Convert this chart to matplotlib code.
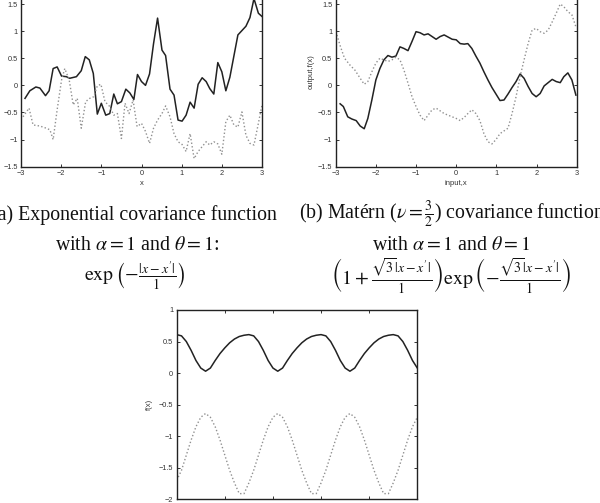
import matplotlib
matplotlib.use("Agg")
import matplotlib.pyplot as plt
import numpy as np

plt.rcParams['mathtext.fontset'] = 'stix'
plt.rcParams['axes.unicode_minus'] = True

# ---- panel (a): exponential covariance samples ----
xa_solid = [-2.90, -2.78, -2.63, -2.53, -2.39, -2.30, -2.20, -2.10, -1.99, -1.87, -1.79, -1.62, -1.50,
            -1.40, -1.30, -1.20, -1.10, -1.00, -0.89, -0.79, -0.69, -0.60, -0.50, -0.39, -0.29, -0.19,
            -0.10, 0.00, 0.10, 0.20, 0.30, 0.40, 0.51, 0.60, 0.71, 0.81, 0.91, 1.01, 1.11, 1.21, 1.31,
            1.41, 1.51, 1.61, 1.70, 1.80, 1.90, 2.00, 2.10, 2.20, 2.30, 2.40, 2.50, 2.60, 2.70, 2.80,
            2.91, 3.00]
ya_solid = [-0.24, -0.10, -0.03, -0.05, -0.19, -0.10, 0.31, 0.34, 0.17, 0.16, 0.13, 0.16, 0.27,
            0.53, 0.47, 0.22, -0.53, -0.33, -0.55, -0.52, -0.16, -0.34, -0.30, -0.07, -0.14, -0.26,
            0.20, 0.07, 0.00, 0.21, 0.77, 1.24, 0.65, 0.55, -0.07, -0.18, -0.64, -0.66, -0.55, -0.31, -0.42,
            0.02, 0.14, 0.07, -0.06, -0.16, 0.42, 0.25, -0.10, 0.15, 0.54, 0.93, 1.01, 1.09, 1.25, 1.60,
            1.33, 1.27]
xa_dot = [-2.95, -2.80, -2.70, -2.53, -2.37, -2.28, -2.20, -2.10, -1.99, -1.91, -1.80, -1.70, -1.60,
          -1.50, -1.39, -1.29, -1.19, -1.10, -1.01, -0.91, -0.79, -0.69, -0.60, -0.50, -0.41, -0.31,
          -0.21, -0.11, 0.00, 0.10, 0.20, 0.30, 0.40, 0.51, 0.60, 0.71, 0.81, 0.91, 1.01, 1.11, 1.21,
          1.31, 1.41, 1.51, 1.61, 1.70, 1.80, 1.90, 2.00, 2.10, 2.20, 2.30, 2.40, 2.50, 2.60, 2.70,
          2.80, 2.91, 3.00]
ya_dot = [-0.58, -0.42, -0.73, -0.75, -0.79, -0.82, -1.00, -0.45, 0.10, 0.31, 0.10, -0.36, -0.24,
          -0.79, -0.30, -0.24, -0.21, -0.01, 0.02, -0.30, -0.39, -0.55, -0.52, -0.98, -0.33, -0.52,
          -0.27, -0.76, -0.70, -0.85, -1.07, -0.79, -0.64, -0.52, -0.38, -0.58, -0.89, -1.04, -1.09,
          -1.22, -0.89, -1.35, -1.22, -1.13, -1.04, -1.10, -1.04, -1.08, -1.27, -0.67, -0.55, -0.73,
          -0.77, -0.49, -0.92, -1.07, -1.10, -0.70, -0.36]

# ---- panel (b): Matern 3/2 samples ----
xb_solid = [-2.89, -2.81, -2.70, -2.60, -2.49, -2.39, -2.29, -2.20, -2.10, -2.00, -1.90, -1.80, -1.70,
            -1.60, -1.50, -1.40, -1.30, -1.20, -1.10, -1.00, -0.90, -0.80, -0.70, -0.60, -0.50, -0.40,
            -0.30, -0.20, -0.10, 0.00, 0.10, 0.20, 0.29, 0.39, 0.49, 0.59, 0.69, 0.79, 0.89, 0.99, 1.09,
            1.19, 1.29, 1.39, 1.49, 1.59, 1.69, 1.79, 1.89, 1.99, 2.09, 2.19, 2.29, 2.39, 2.49, 2.59,
            2.68, 2.78, 2.88, 2.98]
yb_solid = [-0.34, -0.39, -0.58, -0.62, -0.65, -0.75, -0.80, -0.61, -0.27, 0.10, 0.31, 0.47, 0.55,
            0.52, 0.54, 0.71, 0.68, 0.64, 0.81, 0.99, 0.97, 0.93, 0.95, 0.90, 0.85, 0.90, 0.93, 0.89,
            0.85, 0.84, 0.77, 0.76, 0.77, 0.68, 0.54, 0.41, 0.25, 0.10, -0.04, -0.16, -0.28, -0.27,
            -0.16, -0.04, 0.07, 0.21, 0.13, -0.02, -0.15, -0.21, -0.15, -0.01, 0.05, 0.11, 0.07, 0.05,
            0.16, 0.23, 0.10, -0.18]
xb_dot = [-2.97, -2.88, -2.78, -2.64, -2.52, -2.39, -2.29, -2.20, -2.10, -2.00, -1.90, -1.80, -1.70,
          -1.60, -1.50, -1.40, -1.30, -1.20, -1.10, -1.00, -0.90, -0.80, -0.70, -0.60, -0.50, -0.40,
          -0.30, -0.20, -0.10, 0.00, 0.10, 0.20, 0.29, 0.39, 0.49, 0.59, 0.69, 0.79, 0.89, 0.99, 1.09,
          1.19, 1.29, 1.39, 1.49, 1.59, 1.69, 1.79, 1.89, 1.99, 2.09, 2.19, 2.29, 2.39, 2.49, 2.59,
          2.68, 2.78, 2.88, 2.98]
yb_dot = [0.93, 0.71, 0.50, 0.37, 0.28, 0.13, 0.02, 0.07, 0.25, 0.41, 0.50, 0.47, 0.44, 0.47, 0.52,
          0.47, 0.28, 0.04, -0.21, -0.39, -0.55, -0.65, -0.55, -0.45, -0.42, -0.47, -0.52, -0.55,
          -0.58, -0.61, -0.65, -0.59, -0.52, -0.45, -0.52, -0.65, -0.89, -1.04, -1.08, -1.00, -0.89,
          -0.84, -0.79, -0.52, -0.21, 0.16, 0.47, 0.77, 1.02, 1.05, 0.99, 0.96, 1.02, 1.17, 1.33, 1.50,
          1.45, 1.36, 1.30, 1.08]

# ---- panel (c): periodic covariance samples ----
xc = [0.0, 0.1, 0.2, 0.3, 0.4, 0.5, 0.6, 0.7, 0.8, 0.9, 1.0, 1.1, 1.2, 1.3, 1.4,
      1.5, 1.6, 1.7, 1.8, 1.9, 2.0, 2.1, 2.2, 2.3, 2.4, 2.5, 2.6, 2.7, 2.8, 2.9,
      3.0, 3.1, 3.2, 3.3, 3.4, 3.5, 3.6, 3.7, 3.8, 3.9, 4.0, 4.1, 4.2, 4.3, 4.4,
      4.5, 4.6, 4.7, 4.8, 4.9, 5.0]
yc_solid = [0.61, 0.59, 0.50, 0.36, 0.20, 0.08, 0.03, 0.08, 0.20, 0.31, 0.40, 0.48, 0.54, 0.58, 0.60,
            0.61, 0.59, 0.50, 0.36, 0.20, 0.08, 0.03, 0.08, 0.20, 0.31, 0.40, 0.48, 0.54, 0.58, 0.60,
            0.61, 0.59, 0.50, 0.36, 0.20, 0.08, 0.03, 0.08, 0.20, 0.31, 0.40, 0.48, 0.54, 0.58, 0.60,
            0.61, 0.59, 0.50, 0.36, 0.20, 0.08]
yc_dot = [-1.70, -1.54, -1.30, -1.06, -0.85, -0.70, -0.64, -0.70, -0.85, -1.06, -1.30, -1.54, -1.74,
          -1.91, -1.91, -1.74, -1.54, -1.30, -1.06, -0.85, -0.70, -0.64, -0.70, -0.85, -1.06, -1.30,
          -1.54, -1.74, -1.91, -1.91, -1.74, -1.54, -1.30, -1.06, -0.85, -0.70, -0.64, -0.70, -0.85,
          -1.06, -1.30, -1.54, -1.74, -1.91, -1.91, -1.74, -1.54, -1.30, -1.06, -0.85, -0.70]

ab_xticks = [-3, -2, -1, 0, 1, 2, 3]
ab_yticks = [-1.5, -1, -0.5, 0, 0.5, 1, 1.5, 2]
c_xticks = [0, 1, 2, 3, 4, 5]
c_yticks = [-2, -1.5, -1, -0.5, 0, 0.5, 1]

W, H = 600, 503
fig = plt.figure(figsize=(W / 100, H / 100), dpi=100)

def px_axes(left, top, right, bottom):
    return fig.add_axes([left / W, 1 - bottom / H, (right - left) / W, (bottom - top) / H])

SPINE = '#222222'
TICKFONT = dict(family='Liberation Sans', size=5.3)
DOT = (0, (1, 1.6))

def style(ax, xticks, yticks, xlim, ylim):
    ax.set_xlim(*xlim)
    ax.set_ylim(*ylim)
    ax.set_xticks(xticks)
    ax.set_yticks(yticks)
    ax.set_xticklabels([f"{t:g}".replace('-', '\u2212') for t in xticks], **TICKFONT, color='#333333')
    ax.set_yticklabels([f"{t:g}".replace('-', '\u2212') for t in yticks], **TICKFONT, color='#333333')
    ax.tick_params(direction='in', length=2.5, width=0.7, top=True, right=True, pad=2.5, colors='#333333')
    for s in ax.spines.values():
        s.set_color(SPINE)
        s.set_linewidth(1.0)

# (a)
axa = px_axes(21, -23.1, 262, 166.7)
axa.plot(xa_solid, ya_solid, color='#222222', lw=1.1)
axa.plot(xa_dot, ya_dot, color='#909090', lw=1.0, linestyle=DOT)
style(axa, ab_xticks, ab_yticks, (-3, 3), (-1.5, 2))
axa.set_xlabel('x', family='Liberation Sans', size=5.5, color='#333333', labelpad=2)
axa.set_ylabel('f(x)', family='Liberation Sans', size=5.5, color='#333333', labelpad=3)

# (b)
axb = px_axes(335.7, -23.1, 576.7, 166.7)
axb.plot(xb_solid, yb_solid, color='#222222', lw=1.1)
axb.plot(xb_dot, yb_dot, color='#909090', lw=1.0, linestyle=DOT)
style(axb, ab_xticks, ab_yticks, (-3, 3), (-1.5, 2))
axb.set_xlabel('input,x', family='Liberation Sans', size=5.5, color='#333333', labelpad=2)
axb.set_ylabel('output,f(x)', family='Liberation Sans', size=5.5, color='#333333', labelpad=2)

# (c)
axc = px_axes(176.7, 310, 417.3, 499.3)
axc.plot(xc, yc_solid, color='#222222', lw=1.1)
axc.plot(xc, yc_dot, color='#909090', lw=1.0, linestyle=DOT)
style(axc, c_xticks, c_yticks, (0, 5), (-2, 1))
axc.set_ylabel('f(x)', family='Liberation Sans', size=5.5, color='#333333', labelpad=4)

# captions
CAP = dict(family='Liberation Serif', size=14.3, ha='center', va='center', color='#111111')
def cap(x, y, s):
    fig.text(x / W, 1 - y / H, s, **CAP)

cap(134, 215, '(a) Exponential covariance function')
cap(137, 246, r'with $\alpha = 1$ and $\theta = 1$:')
cap(135, 276, r"$\exp\left(-\frac{|x-x'|}{1}\right)$")
cap(452, 215, r'(b) Matérn ($\nu = \frac{3}{2}$) covariance function')
cap(451, 246, r'with $\alpha = 1$ and $\theta = 1$')
cap(451, 276, r"$\left(1+\frac{\sqrt{3}|x-x'|}{1}\right)\exp\left(-\frac{\sqrt{3}|x-x'|}{1}\right)$")

fig.savefig('out.png', dpi=100)
